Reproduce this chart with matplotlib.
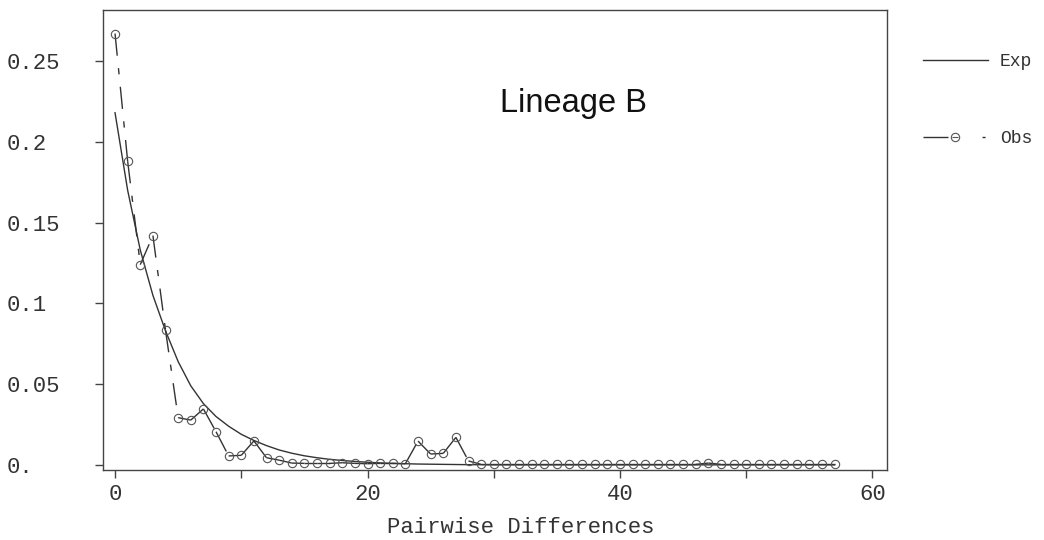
import numpy as np
import matplotlib
matplotlib.use("Agg")
import matplotlib.pyplot as plt
from matplotlib.collections import LineCollection
from matplotlib.lines import Line2D

# 数据
diffs = list(range(58))
obs_vals = [0.267, 0.188, 0.124, 0.142, 0.0834, 0.0293, 0.0278, 0.0347, 0.0206, 0.0056,
            0.006, 0.0149, 0.0045, 0.003, 0.0012, 0.001, 0.001, 0.001, 0.0014, 0.001,
            0.0008, 0.001, 0.001, 0.0008, 0.0148, 0.0068, 0.0072, 0.0171, 0.0025, 0.0004,
            0.0004, 0.0004, 0.0004, 0.0004, 0.0004, 0.0004, 0.0004, 0.0004, 0.0004, 0.0004,
            0.0004, 0.0004, 0.0004, 0.0004, 0.0004, 0.0004, 0.0004, 0.0012, 0.0004, 0.0004,
            0.0004, 0.0004, 0.0004, 0.0004, 0.0004, 0.0004, 0.0004, 0.0004]
exp_vals = [0.218, 0.170, 0.133, 0.105, 0.083, 0.064, 0.049, 0.038, 0.030, 0.024,
            0.019, 0.0152, 0.012, 0.0093, 0.0073, 0.0057, 0.0045, 0.0035, 0.0028, 0.0022,
            0.0017, 0.0013, 0.0010, 0.0008, 0.0006, 0.0005, 0.0004, 0.0003, 0.0002, 0.0002,
            0.0001, 0.0001, 0.0001, 0.0001, 0.0001, 0.0001, 0.0001, 0.0001, 0.0001, 0.0001,
            0.0001, 0.0001, 0.0001, 0.0001, 0.0001, 0.0001, 0.0001, 0.0001, 0.0001, 0.0001,
            0.0001, 0.0001, 0.0001, 0.0001, 0.0001, 0.0001, 0.0001, 0.0001]
xticks = [0, 20, 40, 60]
xtick_labels = ["0", "20", "40", "60"]
yticks = [0, 0.05, 0.1, 0.15, 0.2, 0.25]
ytick_labels = ["0.", "0.05", "0.1", "0.15", "0.2", "0.25"]

plt.rcParams["lines.scale_dashes"] = False
mono = "Liberation Mono"
ink = "#333333"

fig = plt.figure(figsize=(10.44, 5.4), dpi=100)
ax = fig.add_axes([0.0987, 0.1296, 0.7509, 0.8519])

# 期望曲线
ax.plot(diffs, exp_vals, color=ink, lw=1.0)

# 观测值：每段单独起始虚线
pts = np.column_stack([diffs, obs_vals])
segs = np.stack([pts[:-1], pts[1:]], axis=1)
lc = LineCollection(segs, colors=ink, linewidths=1.0, linestyles=[(0, (16, 9, 4.5, 9))])
ax.add_collection(lc)
ax.plot(diffs, obs_vals, ls="none", marker="o", ms=6, mfc="none", mec="#555555", mew=0.8)

ax.set_xlim(-0.95, 61.15)
ax.set_ylim(-0.0031, 0.2816)
ax.set_xticks(xticks)
ax.set_xticklabels(xtick_labels, fontfamily=mono, fontsize=16, color=ink)
ax.set_xticks([10, 30, 50], minor=True)
ax.set_yticks(yticks)
ax.set_yticklabels(ytick_labels, fontfamily=mono, fontsize=16, color=ink)
ax.tick_params(axis="x", which="both", direction="out", length=6, width=1, color="#444444", pad=4)
ax.tick_params(axis="y", direction="out", length=5.5, width=1, color="#444444", pad=64)
for lab in ax.get_yticklabels():
    lab.set_horizontalalignment("left")
for sp in ax.spines.values():
    sp.set_color("#444444")
    sp.set_linewidth(1.0)

ax.set_xlabel("Pairwise Differences", fontfamily=mono, fontsize=16, color=ink, va="center")
ax.xaxis.set_label_coords(0.533, -0.124)

ax.text(0.506, 0.778, "Lineage B", transform=ax.transAxes, fontfamily="Liberation Sans",
        fontsize=23.5, color="#111111", va="baseline", ha="left")

# 图例
h_exp = Line2D([], [], color=ink, lw=1.0)
h_obs = Line2D([], [], color=ink, lw=1.0, dashes=(18, 24.5, 2.2, 10),
               marker="o", ms=6, mfc="none", mec="#555555", mew=0.8)
h_bar = Line2D([], [], ls="none", marker="_", ms=4, mec="#555555", mew=0.8)
fig.legend([h_exp, (h_obs, h_bar)], ["Exp", "Obs"], loc="upper left",
           bbox_to_anchor=(0.884, 0.902), frameon=False, borderpad=0, borderaxespad=0,
           handlelength=3.6, handletextpad=0.66, labelspacing=3.35, numpoints=1,
           prop={"family": mono, "size": 13}, labelcolor=ink)

fig.savefig("out.png", dpi=100)
